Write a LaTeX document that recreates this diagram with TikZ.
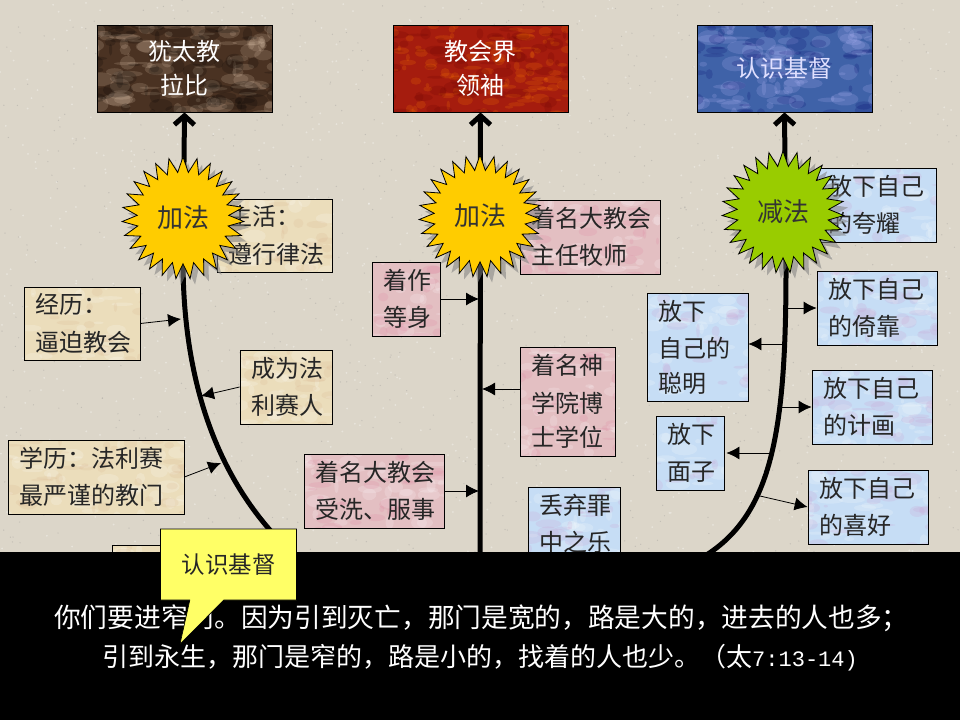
\documentclass[tikz,border=0pt]{standalone}
\usepackage{fontspec}
\newfontfamily\cjk{Noto Sans CJK SC}
\newfontfamily\verseno{Liberation Mono}
\usetikzlibrary{arrows.meta,shapes.geometric,shapes.callouts,shadows}

%% mottled fill: colour, count, blot size
\newcommand\Mottle[3]{%
  \foreach \i in {1,...,#2} {%
    \pgfmathsetmacro\BX{rand*95}\pgfmathsetmacro\BY{rand*60}%
    \pgfmathsetmacro\BA{1.5+rnd*#3}\pgfmathsetmacro\BB{1+rnd*#3/2}\pgfmathsetmacro\BR{rnd*180}%
    \fill[#1,opacity=.18,rotate around={\BR:(path picture bounding box.center)}] ([xshift=\BX pt,yshift=\BY pt]path picture bounding box.center) ellipse (\BA pt and \BB pt);
  }}

\definecolor{paper}{HTML}{DCD6C9}
\definecolor{tanfill}{HTML}{EBDDBB}
\definecolor{pinkfill}{HTML}{E3BFC2}
\definecolor{bluefill}{HTML}{C6DDF5}
\definecolor{rabbifill}{HTML}{4A3222}
\definecolor{leaderfill}{HTML}{A51C0E}
\definecolor{knowfill}{HTML}{3F62A8}
\definecolor{addfill}{HTML}{FFCC00}
\definecolor{minusfill}{HTML}{99CC00}
\definecolor{calloutfill}{HTML}{FFFF66}

\tikzset{
  boxwh/.style 2 args={minimum width=#1pt,minimum height=#2pt,text width={#1pt-22pt}},
  textbox/.style={draw=black,line width=.8pt,inner sep=0pt,align=left,text=black!85,
    font=\cjk\fontsize{24}{34.5}\selectfont,execute at begin node={\vspace*{3pt}}},
  tanbox/.style={textbox,fill=tanfill,path picture={\Mottle{white}{70}{12}\Mottle{brown!60}{60}{10}}},
  pinkbox/.style={textbox,fill=pinkfill,path picture={\Mottle{white}{70}{12}\Mottle{purple!50}{60}{10}}},
  bluebox/.style={textbox,fill=bluefill,path picture={\Mottle{white}{80}{12}\Mottle{violet!40}{60}{12}}},
  topbox/.style={draw=black,line width=.8pt,inner sep=0pt,align=center,text=white,
    minimum width=175pt,minimum height=87pt,font=\cjk\fontsize{24}{34}\selectfont},
  burst/.style={star,star points=27,star point ratio=1.33,draw=black,line width=.8pt,inner sep=0pt,
    minimum size=122pt,font=\cjk\fontsize{26}{30}\selectfont,text=black!80,
    drop shadow={shadow xshift=5pt,shadow yshift=-6pt,fill=gray,opacity=.55}},
  spine/.style={line width=5pt,-{Straight Barb[length=9pt,width=20pt]}},
  tag/.style={line width=.8pt,-{Latex[length=13pt,width=13pt]}},
  verse/.style={text=white,inner sep=0pt,anchor=west,font=\cjk\fontsize{26.7}{30}\selectfont},
}

\begin{document}
\begin{tikzpicture}[x=1pt,y=-1pt]

\useasboundingbox (0,0) rectangle (960,720);

%% paper
\fill[paper] (0,0) rectangle (960,720);
\pgfmathsetseed{7}
\foreach \i in {1,...,900} {
  \pgfmathsetmacro\PX{rnd*960}\pgfmathsetmacro\PY{rnd*552}
  \fill[black!45,opacity=.3] (\PX,\PY) circle (.7pt);
  \pgfmathsetmacro\PX{rnd*960}\pgfmathsetmacro\PY{rnd*552}
  \fill[white,opacity=.35] (\PX,\PY) circle (1pt);
}

%% tops
\node[topbox,fill=rabbifill,path picture={\Mottle{brown!40!white}{130}{14}\Mottle{black}{100}{14}}]
  (rabbi) at (184.5,68.5) {犹太教\\拉比};
\node[topbox,fill=leaderfill,path picture={\Mottle{orange}{150}{8}\Mottle{red!40!black}{90}{10}}]
  (leader) at (480.5,68.5) {教会界\\领袖};
\node[topbox,fill=knowfill,text=white!88!blue,path picture={\Mottle{blue!25!white}{110}{14}\Mottle{blue!40!black}{80}{12}}]
  (knowing) at (784.5,68.5) {认识基督};

%% spines
\coordinate (startA) at (300,560);
\coordinate (startB) at (480,560);
\coordinate (startC) at (698,560);

\draw[spine] (startA) .. controls (225,495) and (183,395) .. (183,260) -- (rabbi.south);
\draw[spine] (startB) -- (leader.south);
\draw[spine] (startC) .. controls (770,520) and (786,440) .. (786,270) -- (knowing.south);

%% left
\node[tanbox,boxwh={115}{73}] (shenghuo) at (274.5,235.5) {生活：\\遵行律法};
\node[tanbox,boxwh={116}{73}] (jingli) at (82,323.5) {经历：\\逼迫教会};
\node[tanbox,boxwh={92}{74}] (falisai) at (286,387) {成为法\\利赛人};
\node[tanbox,boxwh={176}{74}] (xueli) at (96,477) {学历：法利赛\\最严谨的教门};
\node[tanbox,boxwh={100}{40}] (hiddenbox) at (162,565) {};

\coordinate (spineA1) at (181,319);
\coordinate (spineA2) at (201,396);
\coordinate (spineA3) at (221,463);

\draw[tag] (jingli.east) -- (spineA1);
\draw[tag] (falisai.west) -- (spineA2);
\draw[tag] (xueli.east) -- (spineA3);

%% middle
\node[pinkbox,boxwh={140}{74}] (zhuren) at (590,237) {着名大教会\\主任牧师};
\node[pinkbox,boxwh={68}{74}] (zhuzuo) at (406,299) {着作\\等身};
\node[pinkbox,boxwh={95}{109}] (boshi) at (567.5,401.5) {着名神\\学院博\\士学位};
\node[pinkbox,boxwh={140}{74}] (shouxi) at (374,491) {着名大教会\\受洗、服事};
\node[bluebox,boxwh={92}{74}] (diuqi) at (574,524) {丢弃罪\\中之乐};

\coordinate (spineB1) at (479,299);
\coordinate (spineB2) at (482,389);
\coordinate (spineB3) at (479,491);

\draw[tag] (zhuzuo.east) -- (spineB1);
\draw[tag] ([yshift=12.5pt]boshi.west) -- (spineB2);
\draw[tag] (shouxi.east) -- (spineB3);

%% right
\node[bluebox,boxwh={119}{74}] (kuayao) at (876.5,205) {放下自己\\的夸耀};
\node[bluebox,boxwh={120}{74}] (yikao) at (877,308) {放下自己\\的倚靠};
\node[bluebox,boxwh={101}{108}] (congming) at (697.5,347) {放下\\自己的\\聪明};
\node[bluebox,boxwh={120}{74}] (jihua) at (872,407) {放下自己\\的计画};
\node[bluebox,boxwh={68}{74}] (mianzi) at (690,453) {放下\\面子};
\node[bluebox,boxwh={120}{74}] (xihao) at (868,507) {放下自己\\的喜好};

\coordinate (spineC1) at (788,308);
\coordinate (spineC2) at (785,344);
\coordinate (spineC3) at (782,407);
\coordinate (spineC4) at (772,453);
\coordinate (spineC5) at (760,496);

\draw[tag] (spineC1) -- (yikao.west);
\draw[tag] (spineC2) -- ([yshift=3pt]congming.east);
\draw[tag] (spineC3) -- (jihua.west);
\draw[tag] (spineC4) -- ([xshift=2pt]mianzi.east);
\draw[tag] (spineC5) -- (xihao.west);

%% bursts
\node[burst,fill=addfill] (addA) at (183,218) {加法};
\node[burst,fill=addfill] (addB) at (480,216) {加法};
\node[burst,fill=minusfill] (minus) at (783,212) {减法};

%% band
\fill[black] (0,552) rectangle (960,720);
\node[verse] (verseA) at (54,618) {你们要进窄门。因为引到灭亡，那门是宽的，路是大的，进去的人也多；};
\node[verse,font=\cjk\fontsize{26}{30}\selectfont] (verseB) at (102,658) {引到永生，那门是窄的，路是小的，找着的人也少。（太{\verseno\fontsize{22}{30}\selectfont 7:13-14)}};

%% callout
\coordinate (calloutTip) at (180,644);
\node[rectangle callout,callout absolute pointer={(calloutTip)},callout pointer width=34pt,
  draw=black,line width=.6pt,fill=calloutfill,minimum width=136pt,minimum height=71pt,
  inner sep=0pt,font=\cjk\fontsize{23.5}{28}\selectfont,text=black!85]
  (callout) at (228.5,564.5) {认识基督};

\end{tikzpicture}
\end{document}
